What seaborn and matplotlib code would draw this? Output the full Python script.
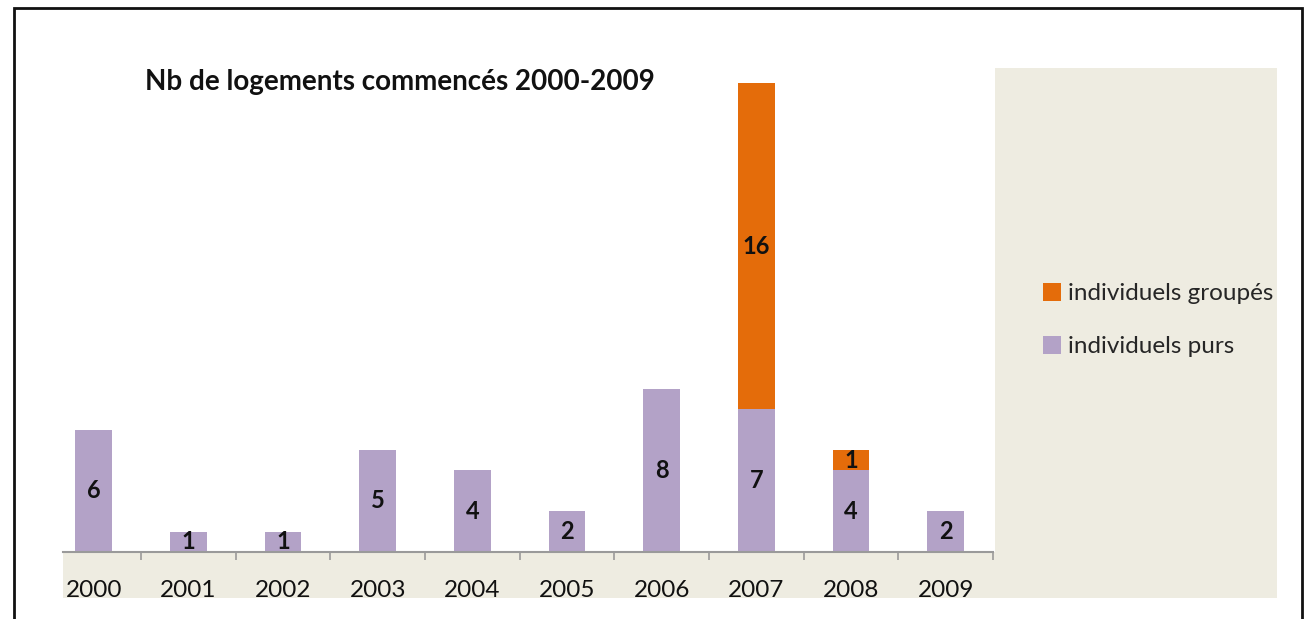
import matplotlib
matplotlib.use("Agg")
import matplotlib.pyplot as plt
import seaborn as sns
import pandas as pd
import numpy as np
from matplotlib.patches import Rectangle, Patch

years = ["2000", "2001", "2002", "2003", "2004", "2005", "2006", "2007", "2008", "2009"]
purs = [6, 1, 1, 5, 4, 2, 8, 7, 4, 2]
groupes = [0, 0, 0, 0, 0, 0, 0, 16, 1, 0]
title = "Nb de logements commencés 2000-2009"
label_groupes = "individuels groupés"
label_purs = "individuels purs"

PURPLE = "#B3A2C7"
ORANGE = "#E46C0A"
BEIGE = "#EEECE1"

sns.set_theme(style="white")
plt.rcParams["font.family"] = ["Lato", "DejaVu Sans"]

W, H = 1306, 619
fig = plt.figure(figsize=(W / 100, H / 100), dpi=100)
fig.patch.set_facecolor("white")

def fx(px):
    return px / W

def fy(py):
    return 1 - py / H

# beige areas (behind the axes)
fig.patches.append(Rectangle((fx(995), fy(598)), fx(1277) - fx(995), fy(68) - fy(598),
                             transform=fig.transFigure, facecolor=BEIGE, edgecolor="none", zorder=-2))
fig.patches.append(Rectangle((fx(63), fy(598)), fx(995) - fx(63), fy(552) - fy(598),
                             transform=fig.transFigure, facecolor=BEIGE, edgecolor="none", zorder=-2))
# white strip cutting the bottom of the tick labels
fig.patches.append(Rectangle((fx(30), 0), fx(1290) - fx(30), fy(598),
                             transform=fig.transFigure, facecolor="white", edgecolor="none", zorder=3))
# outer border
fig.patches.append(Rectangle((fx(14), fy(640)), fx(1302) - fx(14), fy(8) - fy(640),
                             transform=fig.transFigure, facecolor="none", edgecolor="#111111",
                             linewidth=2, zorder=5, clip_on=False))

ax = fig.add_axes([fx(63), fy(552), fx(993) - fx(63), fy(68) - fy(552)])
ax.set_facecolor("white")

df = pd.DataFrame({"annee": years, "purs": purs, "groupes": groupes})
df["total"] = df["purs"] + df["groupes"]

sns.barplot(data=df, x="annee", y="total", color=ORANGE, saturation=1, width=0.39,
            ax=ax, edgecolor="none")
sns.barplot(data=df, x="annee", y="purs", color=PURPLE, saturation=1, width=0.39,
            ax=ax, edgecolor="none")

cat_w = (993 - 141) / 9.0
ax.set_xlim(-0.5 + (63 - (141 - cat_w)) / cat_w, len(years) - 0.5)
ax.set_ylim(0, 484 / 20.4)
ax.set_xlabel("")
ax.set_ylabel("")
ax.set_yticks([])

for s in ["top", "left", "right"]:
    ax.spines[s].set_visible(False)
ax.spines["bottom"].set_color("#9A9A9A")
ax.spines["bottom"].set_linewidth(1.5)

ax.set_xticks(range(len(years)))
ax.set_xticklabels(years)
ax.set_xticks(np.arange(0.5, len(years), 1.0), minor=True)
ax.tick_params(axis="x", which="major", bottom=False, length=0, pad=20, labelsize=17.5,
               labelcolor="#111111")
ax.tick_params(axis="x", which="minor", bottom=True, length=6, width=1.2, color="#9A9A9A",
               direction="out")

for i, (p, g) in enumerate(zip(purs, groupes)):
    if p > 0:
        ax.text(i, p / 2, str(p), ha="center", va="center", fontsize=17,
                fontweight="bold", color="#111111")
    if g > 0:
        ax.text(i, p + g / 2, str(g), ha="center", va="center", fontsize=17,
                fontweight="bold", color="#111111")

fig.text(fx(145), fy(82), title, ha="left", va="center", fontsize=20,
         fontweight="bold", color="#111111")

handles = [Patch(facecolor=ORANGE, edgecolor="none", label=label_groupes),
           Patch(facecolor=PURPLE, edgecolor="none", label=label_purs)]
fig.legend(handles=handles, loc="center left", bbox_to_anchor=(fx(1033), fy(320)),
           frameon=False, fontsize=17.5, handlelength=0.75, handleheight=0.75,
           handletextpad=0.3, labelspacing=1.3, borderaxespad=0)

fig.savefig("out.png", dpi=100)
